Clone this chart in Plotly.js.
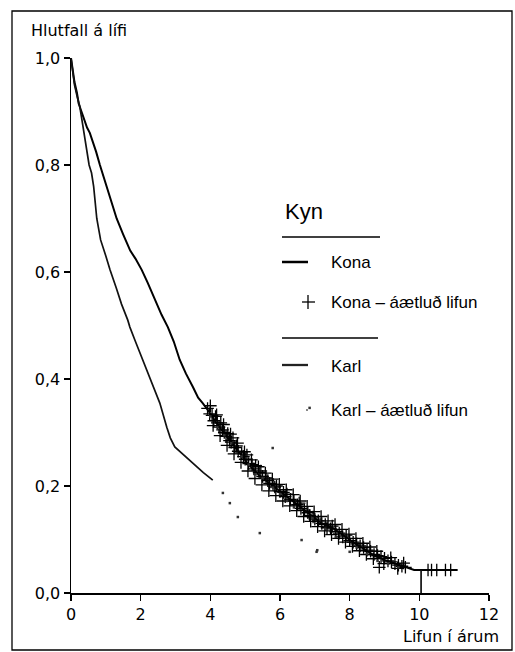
<!DOCTYPE html>
<html>
<head>
<meta charset="utf-8">
<script src="https://cdn.plot.ly/plotly-3.0.1.min.js"></script>
<style>html,body{margin:0;padding:0;background:#fff;}#chart{width:515px;height:652px;}</style>
</head>
<body>
<div id="chart"></div>
<script>
// Kona (women) survival curve
const konaX = [0,0.05,0.1,0.17,0.22,0.3,0.38,0.46,0.54,0.62,0.72,0.83,0.88,1.0,1.15,1.31,1.5,1.7,1.85,2.03,2.2,2.4,2.6,2.78,2.95,3.12,3.3,3.5,3.65,3.78,3.93,4.2,4.5,4.8,5.1,5.4,5.7,6.0,6.3,6.56,6.9,7.2,7.5,7.8,8.1,8.4,8.7,9.0,9.3,9.7,9.85,11.1];
const konaY = [1.0,0.975,0.955,0.935,0.915,0.9,0.885,0.87,0.86,0.845,0.825,0.8,0.79,0.765,0.735,0.7,0.67,0.64,0.625,0.604,0.58,0.55,0.52,0.497,0.47,0.436,0.41,0.385,0.365,0.355,0.342,0.315,0.29,0.265,0.24,0.22,0.205,0.19,0.175,0.161,0.145,0.13,0.122,0.108,0.095,0.083,0.07,0.062,0.055,0.047,0.043,0.043];
// Karl (men) survival curve
const karlX = [0,0.05,0.1,0.17,0.25,0.3,0.37,0.45,0.52,0.59,0.65,0.74,0.85,1.0,1.12,1.3,1.45,1.63,1.69,1.85,2.06,2.2,2.4,2.55,2.75,2.85,2.98,3.2,3.4,3.61,3.8,4.07,null,10.05,10.05];
const karlY = [1.0,0.97,0.95,0.93,0.91,0.89,0.86,0.83,0.8,0.785,0.76,0.7,0.66,0.63,0.604,0.57,0.54,0.51,0.497,0.47,0.436,0.41,0.38,0.355,0.31,0.29,0.273,0.26,0.25,0.236,0.225,0.211,null,0.043,0];
// Kona – áætluð lifun (censor marks)
const konaCensX = [3.92,3.98,4.05,4.1,4.15,4.2,4.25,4.3,4.35,4.4,4.45,4.5,4.55,4.6,4.65,4.7,4.75,4.8,4.9,4.95,5.0,5.05,5.1,5.2,5.25,5.3,5.4,5.45,5.5,5.6,5.65,5.7,5.8,5.85,5.9,6.0,6.1,6.15,6.2,6.3,6.4,6.5,6.55,6.6,6.7,6.8,6.85,6.95,7.0,7.1,7.2,7.3,7.35,7.45,7.5,7.6,7.7,7.8,7.9,8.0,8.1,8.2,8.3,8.4,8.5,8.6,8.7,8.8,8.85,8.9,9.0,9.1,9.2,9.3,9.4,9.5,9.6,10.25,10.35,10.5,10.75,10.9,
  4.0,4.08,4.18,4.28,4.38,4.48,4.58,4.68,4.78,4.88,4.98,5.08,5.18,5.28,5.38,5.48,5.58,5.68,5.78,5.88,5.98,6.08,6.18,6.28,6.38,6.48,6.58,6.68,6.78,6.88,6.98,7.08,7.18,7.28,7.38,7.48,7.58,7.68,7.78,7.88,7.98,8.08,8.18,8.28,8.38,8.48,8.58,8.68,8.78,8.98,9.18,9.38,9.55];
const konaCensY = [0.345,0.335,0.332,0.322,0.33,0.318,0.31,0.318,0.305,0.3,0.293,0.298,0.285,0.282,0.29,0.272,0.275,0.265,0.262,0.255,0.25,0.258,0.242,0.24,0.232,0.238,0.225,0.228,0.218,0.215,0.21,0.205,0.203,0.198,0.2,0.19,0.188,0.18,0.185,0.175,0.172,0.165,0.168,0.158,0.155,0.15,0.145,0.142,0.138,0.135,0.13,0.128,0.122,0.12,0.125,0.115,0.112,0.105,0.108,0.098,0.095,0.092,0.088,0.085,0.08,0.078,0.072,0.07,0.048,0.068,0.065,0.06,0.058,0.055,0.052,0.05,0.048,0.043,0.043,0.043,0.043,0.043,
  0.35,0.313,0.333,0.294,0.315,0.276,0.297,0.26,0.28,0.244,0.264,0.228,0.249,0.214,0.236,0.202,0.224,0.191,0.213,0.182,0.203,0.172,0.193,0.163,0.184,0.154,0.172,0.143,0.162,0.134,0.152,0.124,0.143,0.116,0.135,0.109,0.128,0.102,0.119,0.095,0.11,0.087,0.102,0.079,0.093,0.072,0.086,0.064,0.078,0.055,0.066,0.046,0.056];
// Karl – áætluð lifun (estimated survival dots)
const karlEstX = [4.0,4.2,4.36,4.4,4.56,4.6,4.79,4.9,5.1,5.3,5.42,5.5,5.79,5.8,6.0,6.2,6.4,6.62,6.85,6.93,7.05,7.07,7.3,7.6,8.0,8.2,8.5,8.8,9.1,9.4];
const karlEstY = [0.33,0.31,0.187,0.295,0.168,0.28,0.142,0.255,0.24,0.222,0.112,0.215,0.271,0.197,0.185,0.172,0.16,0.099,0.346,0.14,0.077,0.08,0.12,0.105,0.077,0.085,0.073,0.06,0.055,0.048];

const xTicks = [0,2,4,6,8,10,12];
const yTicks = [0,0.2,0.4,0.6,0.8,1.0];

// pixel -> paper helpers (plot area: x 71..489, y 58..593)
const L=71, R=489, T=58, B=593;
const px = v => (v-L)/(R-L);
const py = v => (B-v)/(B-T);

const traces = [
  {x: konaX, y: konaY, mode:'lines', line:{shape:'linear', color:'#000', width:2}, name:'Kona', showlegend:false, cliponaxis:false, hoverinfo:'skip'},
  {x: karlX, y: karlY, mode:'lines', line:{shape:'linear', color:'#111', width:1.7}, name:'Karl', showlegend:false, cliponaxis:false, connectgaps:false, hoverinfo:'skip'},
  {x: konaCensX, y: konaCensY, mode:'markers', marker:{symbol:'cross-thin', size:9, line:{color:'#000', width:1.3}}, name:'Kona – áætluð lifun', showlegend:false, cliponaxis:false, hoverinfo:'skip'},
  {x: karlEstX, y: karlEstY, mode:'markers', marker:{symbol:'square', size:2.5, color:'#333'}, name:'Karl – áætluð lifun', showlegend:false, cliponaxis:false, hoverinfo:'skip'}
];

const font = 'DejaVu Sans, sans-serif';
const lfont = 'Liberation Sans, Arial, sans-serif';

const shapes = [
  {type:'rect', xref:'paper', yref:'paper', x0:px(12), x1:px(512), y0:py(650), y1:py(11), line:{color:'#000', width:1.3}},
  {type:'line', xref:'paper', yref:'paper', x0:px(282), x1:px(380), y0:py(237), y1:py(237), line:{color:'#000', width:1.3}},
  {type:'line', xref:'paper', yref:'paper', x0:px(282), x1:px(378), y0:py(338), y1:py(338), line:{color:'#000', width:1.3}},
  {type:'line', xref:'paper', yref:'paper', x0:px(282), x1:px(308), y0:py(262), y1:py(262), line:{color:'#000', width:2.5}},
  {type:'line', xref:'paper', yref:'paper', x0:px(302), x1:px(315), y0:py(302), y1:py(302), line:{color:'#000', width:1.3}},
  {type:'line', xref:'paper', yref:'paper', x0:px(308), x1:px(308), y0:py(295), y1:py(309), line:{color:'#000', width:1.3}},
  {type:'line', xref:'paper', yref:'paper', x0:px(282), x1:px(308), y0:py(365), y1:py(365), line:{color:'#222', width:2.3}},
  {type:'rect', xref:'paper', yref:'paper', x0:px(306), x1:px(308), y0:py(411), y1:py(409), line:{width:0}, fillcolor:'#888'}
];

const ann = (text, x, y, xa, size, f) => ({text, xref:'paper', yref:'paper', x:px(x), y:py(y), xanchor:xa, yanchor:'middle', showarrow:false, font:{family:f, size, color:'#000'}});

const annotations = [
  ann('Hlutfall á lífi', 29, 30, 'left', 16, font),
  ann('Lifun í árum', 501, 636, 'right', 16, font),
  ann('Kyn', 283, 211, 'left', 22, lfont),
  ann('Kona', 329, 262, 'left', 17, lfont),
  ann('Kona – áætluð lifun', 329, 302, 'left', 17, lfont),
  ann('Karl', 329, 366, 'left', 17, lfont),
  ann('Karl – áætluð lifun', 329, 410, 'left', 17, lfont)
];

const layout = {
  width:515, height:652,
  margin:{l:L, r:515-R, t:T, b:652-B, pad:0},
  paper_bgcolor:'#fff', plot_bgcolor:'#fff',
  separators:', ',
  showlegend:false,
  xaxis:{range:[0,12], tickvals:xTicks, ticktext:xTicks.map(String), showgrid:false, zeroline:false, showline:true, linecolor:'#000', linewidth:1.5, ticks:'outside', ticklen:6, tickwidth:1.5, tickcolor:'#000', tickfont:{family:font, size:16, color:'#000'}, fixedrange:true},
  yaxis:{range:[0,1], tickvals:yTicks, ticktext:yTicks.map(v=>v.toFixed(1).replace('.',',')), showgrid:false, zeroline:false, showline:true, linecolor:'#000', linewidth:1.5, ticks:'outside', ticklen:6, tickwidth:1.5, tickcolor:'#000', tickfont:{family:font, size:16, color:'#000'}, fixedrange:true},
  shapes, annotations
};

Plotly.newPlot('chart', traces, layout, {displayModeBar:false, staticPlot:true});
</script>
</body>
</html>
